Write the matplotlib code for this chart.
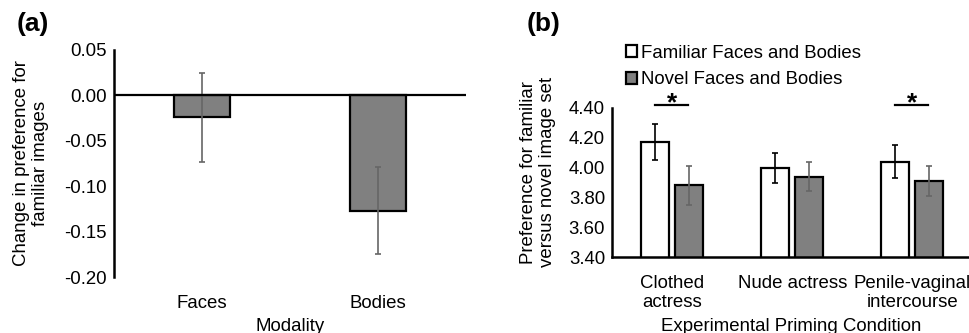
import matplotlib
matplotlib.use('Agg')
from matplotlib import pyplot as plt
from matplotlib.patches import Patch
import numpy as np

plt.rcParams['font.family'] = ['Liberation Sans', 'DejaVu Sans']

# panel (a) data
modality = ['Faces', 'Bodies']
change_pref = [-0.024, -0.127]
change_err = [0.049, 0.048]

# panel (b) data
conditions = ['Clothed\nactress', 'Nude actress', 'Penile-vaginal\nintercourse']
familiar = [4.17, 4.00, 4.04]
familiar_err = [0.12, 0.10, 0.11]
novel = [3.88, 3.94, 3.91]
novel_err = [0.13, 0.10, 0.10]
significant = [True, False, True]

fsz = 13.4
barGray = '#808080'
errGray = '#666666'

fig = plt.figure(figsize=(9.7, 3.33), dpi=100)

# ---------- (a)
axA = fig.add_axes([0.1175, 0.168, 0.363, 0.682])
xa = np.arange(len(modality))
axA.bar(xa, change_pref, width=0.32, color=barGray, edgecolor='black', linewidth=1.6, zorder=2)
axA.errorbar(xa, change_pref, yerr=change_err, fmt='none', ecolor=errGray,
             elinewidth=1.2, capsize=2, capthick=1.2, zorder=3)
axA.axhline(0, color='black', linewidth=1.6, zorder=4)
axA.set_xlim(-0.5, 1.5)
axA.set_ylim(-0.2, 0.05)
axA.set_yticks([0.05, 0.0, -0.05, -0.10, -0.15, -0.20])
axA.set_yticklabels(['0.05', '0.00', '-0.05', '-0.10', '-0.15', '-0.20'])
axA.set_xticks(xa)
axA.set_xticklabels(modality)
axA.tick_params(axis='y', length=0, pad=5, labelsize=fsz)
axA.tick_params(axis='x', length=0, pad=13, labelsize=fsz)
for s in ['top', 'right', 'bottom']:
    axA.spines[s].set_visible(False)
axA.spines['left'].set_linewidth(1.8)
axA.set_xlabel('Modality', fontsize=fsz, labelpad=4)
axA.set_ylabel('Change in preference for\nfamiliar images', fontsize=fsz, linespacing=1.12)
axA.yaxis.label.set_va('center')
axA.yaxis.set_label_coords(-0.235, 0.5)
fig.text(0.017, 0.965, '(a)', fontsize=19, fontweight='bold', va='top', ha='left')

# ---------- (b)
axB = fig.add_axes([0.631, 0.2282, 0.369, 0.4475])
xb = np.arange(len(conditions))
off = 0.142
bw = 0.233
axB.bar(xb - off, familiar, width=bw, color='white', edgecolor='black', linewidth=1.6,
        zorder=2, label='Familiar Faces and Bodies')
axB.bar(xb + off, novel, width=bw, color=barGray, edgecolor='black', linewidth=1.6,
        zorder=2, label='Novel Faces and Bodies')
axB.errorbar(xb - off, familiar, yerr=familiar_err, fmt='none', ecolor='black',
             elinewidth=1.2, capsize=2, capthick=1.2, zorder=3)
axB.errorbar(xb + off, novel, yerr=novel_err, fmt='none', ecolor=errGray,
             elinewidth=1.2, capsize=2, capthick=1.2, zorder=3)
for i, sig in enumerate(significant):
    if sig:
        axB.plot([i - off, i + off - 0.01], [4.42, 4.42], color='black', linewidth=1.6, clip_on=False)
        axB.text(i, 4.385, '*', fontsize=19, fontweight='bold', ha='center', va='baseline')
axB.set_xlim(-0.5, 2.48)
axB.set_ylim(3.4, 4.4)
axB.set_yticks(np.arange(3.4, 4.41, 0.2))
axB.set_yticklabels(['3.40', '3.60', '3.80', '4.00', '4.20', '4.40'])
axB.set_xticks(xb)
axB.set_xticklabels(conditions, linespacing=1.12)
axB.tick_params(axis='y', length=0, pad=5, labelsize=fsz)
axB.tick_params(axis='x', length=0, pad=13, labelsize=fsz)
for s in ['top', 'right']:
    axB.spines[s].set_visible(False)
axB.spines['left'].set_linewidth(1.8)
axB.spines['bottom'].set_linewidth(1.8)
axB.set_xlabel('Experimental Priming Condition', fontsize=fsz, labelpad=5)
axB.set_ylabel('Preference for familiar\nversus novel image set', fontsize=fsz, linespacing=1.12)
axB.yaxis.label.set_va('center')
axB.yaxis.set_label_coords(-0.207, 0.57)
fig.text(0.543, 0.965, '(b)', fontsize=19, fontweight='bold', va='top', ha='left')

handles = [Patch(facecolor='white', edgecolor='black', linewidth=1.6),
           Patch(facecolor=barGray, edgecolor='black', linewidth=1.6)]
fig.legend(handles, ['Familiar Faces and Bodies', 'Novel Faces and Bodies'],
           loc='upper left', bbox_to_anchor=(0.645, 0.865), frameon=False,
           fontsize=fsz, handlelength=0.6, handleheight=0.6, handletextpad=0.25,
           labelspacing=0.5, borderpad=0, borderaxespad=0)

fig.savefig('out.png', dpi=100)
